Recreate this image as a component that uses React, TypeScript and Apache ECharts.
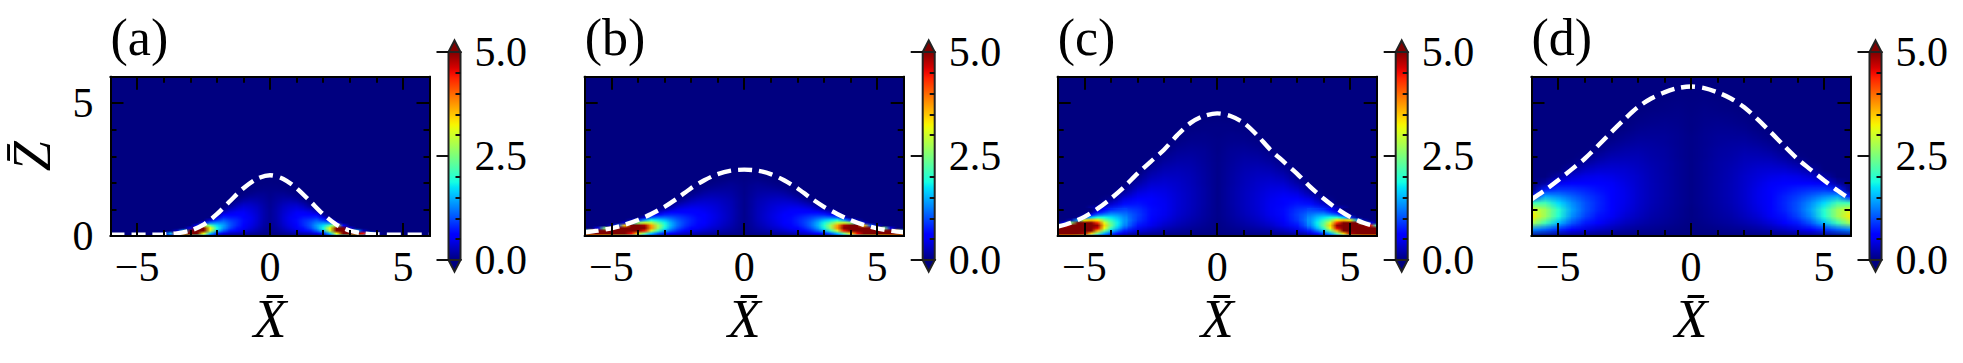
import React, { useEffect, useRef } from "react";
import * as echarts from "echarts";

const FONT = "Liberation Serif";
const panelLabels = ["(a)", "(b)", "(c)", "(d)"];
const plotLefts = [110.5, 584.7, 1057.7, 1531.5];
const xMajorTicks = [-5, 0, 5];
const xMinorTicks = [-4, -3, -2, -1, 1, 2, 3, 4];
const zMajorTicks = [0, 5];
const zMinorTicks = [1, 2, 3, 4];
const barLabels = [0, 2.5, 5];
const barMinorTicks = [0.5, 1, 1.5, 2, 3, 3.5, 4, 4.5];

// Surface height at x = 0, 0.5, 1 ... (mirrored for x < 0)
const curveXs = [0, 0.5, 1, 1.5, 2, 2.5, 3, 3.5, 4, 4.5, 5, 5.5, 6];
const curveA = [2.29, 2.15, 1.8, 1.32, 0.82, 0.43, 0.2, 0.1, 0.06, 0.05, 0.05, 0.05, 0.05];
const curveB = [2.5, 2.46, 2.33, 2.1, 1.8, 1.43, 1.1, 0.83, 0.6, 0.42, 0.29, 0.2, 0.14];
const curveC = [4.62, 4.52, 4.26, 3.8, 3.25, 2.8, 2.35, 1.85, 1.41, 1.03, 0.72, 0.5, 0.35];
const curveD = [5.63, 5.57, 5.41, 5.18, 4.85, 4.4, 3.91, 3.4, 2.91, 2.5, 2.1, 1.72, 1.38];

// Field values. Each inner list is one column, from z = 0 upward; absent cells are 0.
// Panel a: columns every 0.25 in x from 0, rows every 0.1 in z.
const fieldA = [
  [0,.03,.05,.07,.08,.09,.1,.1,.1,.1,.1,.09,.09,.08,.07,.06,.05,.04,.03,.02,.01,0],
  [0,.05,.1,.13,.16,.18,.19,.2,.2,.2,.19,.18,.16,.14,.12,.1,.08,.05,.03,.02,0],
  [0,.1,.2,.27,.32,.35,.37,.37,.36,.34,.32,.29,.25,.2,.16,.12,.08,.04,.02,0],
  [0,.15,.3,.4,.45,.48,.5,.5,.47,.44,.4,.35,.3,.23,.16,.1,.05,.02,0],
  [0,.2,.4,.52,.6,.65,.66,.63,.58,.52,.45,.38,.3,.2,.12,.06,.02,0],
  [0,.25,.55,.7,.8,.82,.8,.72,.62,.52,.4,.3,.2,.1,.04,0],
  [0,.3,.7,.95,1.02,1,.9,.75,.6,.45,.3,.15,.05,0],
  [0,.45,1.05,1.35,1.4,1.25,1.05,.8,.55,.3,.1,0],
  [0,.8,1.6,1.9,1.7,1.3,.85,.45,.1,0],
  [.4,1.6,3,3.2,2.3,1.2,.4,0],
  [1.5,3.2,5.5,5.5,3,.5,0],
  [2,5,6,5,.6,0],
  [2.5,6,6,.5,0],
  [3,6,1.5,0],
  [1.5,4.5,.3,0],
  [.5,1.5,0],
  [0,.3,0],
];
// Panel b: columns every 0.25 in x from 0, rows every 0.1 in z.
const fieldB = [
  [0,.02,.03,.04,.05,.05,.06,.06,.06,.06,.06,.06,.06,.06,.06,.06,.05,.05,.05,.04,.04,.03,.02,.02,.01,0],
  [0,.05,.08,.1,.12,.13,.14,.14,.15,.15,.15,.14,.14,.14,.13,.12,.11,.1,.09,.08,.06,.05,.03,.02,.01,0],
  [0,.07,.13,.17,.2,.22,.24,.25,.25,.25,.25,.24,.23,.22,.2,.18,.16,.14,.12,.1,.08,.05,.03,.01,0],
  [0,.09,.17,.23,.27,.3,.32,.33,.33,.32,.31,.3,.28,.26,.24,.21,.18,.15,.12,.09,.06,.03,.01,0],
  [0,.12,.22,.3,.35,.38,.4,.41,.41,.4,.38,.36,.34,.31,.27,.23,.19,.15,.11,.07,.04,.02,0],
  [0,.15,.27,.36,.42,.46,.48,.49,.48,.46,.44,.41,.37,.33,.29,.24,.19,.14,.09,.05,.02,0],
  [0,.18,.33,.44,.51,.55,.57,.57,.55,.52,.48,.44,.39,.34,.28,.22,.16,.11,.06,.03,0],
  [0,.22,.4,.52,.6,.65,.66,.65,.62,.57,.52,.46,.39,.32,.25,.18,.11,.06,.02,0],
  [0,.27,.48,.62,.72,.76,.77,.74,.68,.61,.53,.45,.36,.27,.19,.11,.05,.02,0],
  [0,.33,.6,.78,.88,.92,.9,.83,.73,.62,.51,.4,.29,.18,.09,.03,0],
  [0,.42,.78,1,1.12,1.13,1.05,.93,.78,.62,.47,.33,.2,.09,.02,0],
  [0,.55,1.05,1.35,1.48,1.45,1.28,1.05,.8,.55,.34,.17,.05,0],
  [0,.75,1.4,1.85,2,1.85,1.55,1.15,.78,.45,.2,.05,0],
  [0,1.1,2.05,2.7,2.75,2.35,1.75,1.15,.65,.3,.07,0],
  [.4,1.6,3,3.8,3.7,2.9,1.9,1.05,.45,.1,0],
  [1,2.4,4.4,5.5,4.8,3,1.4,.4,0],
  [1.5,3.4,6,7,5.5,2.6,.8,0],
  [2,4.5,7,7,5,1.5,.2,0],
  [2.5,5,7,7,3.5,.4,0],
  [2.8,5.5,7,6,1,0],
  [3,6,7,5,.3,0],
  [3.2,6.5,7,2.5,0],
  [3.5,6.5,6,.5,0],
  [3.5,6.5,3.5,0],
  [3.5,6.5,1.5,0],
];
// Panel c: columns every 0.5 in x from 0, rows every 0.2 in z.
const fieldC = [
  [0,.02,.03,.04,.05,.05,.05,.05,.05,.05,.05,.05,.05,.05,.05,.05,.04,.04,.04,.03,.03,.02,.01,0],
  [0,.05,.09,.12,.14,.15,.16,.16,.16,.16,.15,.15,.14,.13,.12,.11,.1,.08,.06,.05,.03,.02,0],
  [0,.08,.15,.2,.24,.26,.27,.27,.27,.26,.25,.24,.22,.2,.18,.15,.12,.09,.06,.04,.02,0],
  [0,.12,.22,.29,.34,.36,.37,.37,.36,.34,.32,.29,.26,.22,.18,.14,.1,.06,.03,0],
  [0,.17,.32,.42,.48,.5,.5,.48,.45,.41,.36,.31,.25,.19,.13,.08,.03,0],
  [0,.27,.48,.6,.65,.66,.63,.57,.5,.42,.34,.25,.17,.09,.03,0],
  [0,.42,.72,.88,.92,.85,.72,.58,.44,.3,.17,.07,0],
  [0,.75,1.25,1.35,1.2,.95,.68,.42,.2,.05,0],
  [.2,1.5,2.3,2.1,1.4,.8,.35,.08,0],
  [1,3.2,4.6,3.6,1.6,.4,0],
  [4,7,7,3.5,0],
  [5,7,7,1,0],
  [5,7,3.5,0],
];
// Panel c, finer reading of the hot corner: columns every 0.25 in x from 3.5, rows every 0.1 in z up to 1.
const fieldCHot = [
  [0,.4,.75,1.05,1.25,1.33,1.35,1.3,1.2,1.08,.95],
  [.1,.7,1.15,1.55,1.75,1.8,1.7,1.55,1.35,1.1,.9],
  [.2,1,1.6,2.1,2.4,2.3,2.05,1.75,1.4,1.1,.8],
  [.4,1.5,2.4,3.2,3.4,3.1,2.5,1.9,1.3,.85,.55],
  [.8,2.4,3.6,4.6,4.9,4.3,3.3,2,1.1,.6,.3],
  [1.5,3.5,5.5,7,7,5.5,3.5,1.6,.6,.1,0],
  [2.5,4.8,7,7,7,6.5,3.2,.9,.1,0,0],
  [3,5.5,7,7,7,5,1.5,.1,0,0,0],
  [3.5,6,7,7,6.5,2.5,.2,0,0,0,0],
  [3.5,6,7,7,4.5,.5,0,0,0,0,0],
  [3.5,6.5,7,5.5,2,0,0,0,0,0,0],
];
// Panel d: columns every 0.5 in x from 0, rows every 0.25 in z.
const fieldD = [
  [0,.01,.02,.03,.03,.04,.04,.04,.04,.04,.04,.04,.04,.04,.04,.04,.03,.03,.03,.02,.02,.01,.01,0],
  [0,.03,.06,.08,.09,.1,.1,.1,.1,.1,.1,.1,.09,.09,.08,.08,.07,.06,.05,.04,.03,.02,.01,0],
  [0,.05,.1,.13,.15,.16,.17,.17,.17,.17,.16,.16,.15,.14,.12,.11,.09,.07,.05,.03,.02,0],
  [0,.08,.14,.18,.21,.23,.24,.24,.24,.23,.22,.2,.18,.16,.14,.11,.09,.06,.04,.02,0],
  [0,.1,.2,.27,.31,.33,.34,.34,.33,.32,.29,.26,.23,.19,.15,.11,.07,.04,.02,0],
  [0,.15,.28,.37,.43,.46,.47,.46,.43,.39,.35,.29,.23,.18,.12,.07,.03,0],
  [0,.22,.4,.52,.6,.63,.62,.58,.52,.45,.37,.29,.21,.13,.07,.02,0],
  [0,.3,.55,.7,.78,.8,.77,.69,.59,.48,.36,.24,.13,.05,0],
  [0,.42,.75,.95,1.03,1.02,.92,.78,.62,.45,.29,.14,.03,0],
  [0,.6,1.05,1.32,1.42,1.32,1.1,.85,.6,.36,.15,.02,0],
  [0,.85,1.55,1.95,2,1.7,1.3,.88,.5,.16,0],
  [0,1.1,2.15,2.7,2.7,2.15,1.45,.75,.15,0],
  [0,1.3,2.8,3.3,3.1,2.1,.65],
];

const panels = [
  { curve: curveA, layers: [{ field: fieldA, x0: 0, dx: 0.25, dz: 0.1, mirror: true }] },
  { curve: curveB, layers: [{ field: fieldB, x0: 0, dx: 0.25, dz: 0.1, mirror: true }] },
  {
    curve: curveC,
    layers: [
      { field: fieldC, x0: 0, dx: 0.5, dz: 0.2, mirror: true },
      { field: fieldCHot, x0: 3.5, dx: 0.25, dz: 0.1, mirror: false },
      { field: [...fieldCHot].reverse(), x0: -6, dx: 0.25, dz: 0.1, mirror: false },
    ],
  },
  { curve: curveD, layers: [{ field: fieldD, x0: 0, dx: 0.5, dz: 0.25, mirror: true }] },
];

const VMAX = 5;
const XMAX = 6;
const ZMAX = 6;

function piece(knots: number[][], t: number) {
  for (let i = 1; i < knots.length; i++) {
    if (t <= knots[i][0]) {
      const [a, va] = knots[i - 1];
      const [b, vb] = knots[i];
      return va + ((vb - va) * (t - a)) / (b - a);
    }
  }
  return knots[knots.length - 1][1];
}
const jetR = [[0, 0], [0.35, 0], [0.66, 1], [0.89, 1], [1, 0.5]];
const jetG = [[0, 0], [0.125, 0], [0.375, 1], [0.64, 1], [0.91, 0], [1, 0]];
const jetB = [[0, 0.5], [0.11, 1], [0.34, 1], [0.65, 0], [1, 0]];
function jet(v: number): number[] {
  const t = Math.max(0, Math.min(1, v / VMAX));
  return [piece(jetR, t), piece(jetG, t), piece(jetB, t)].map((c) => Math.round(c * 255));
}

// One pixel per estimated value; the browser smooths the picture when it is scaled up to the axes.
function fieldImage(layer: any) {
  const { field, x0, dx, dz, mirror } = layer;
  const half = Math.round(XMAX / dx);
  const w = mirror ? 2 * half + 1 : field.length;
  const h = mirror ? Math.round(ZMAX / dz) + 1 : field[0].length;
  const canvas = document.createElement("canvas");
  canvas.width = w;
  canvas.height = h;
  const ctx = canvas.getContext("2d")!;
  const img = ctx.createImageData(w, h);
  for (let c = 0; c < w; c++) {
    const col = (mirror ? field[Math.abs(c - half)] : field[c]) || [];
    for (let r = 0; r < h; r++) {
      const [R, G, B] = jet(col[h - 1 - r] || 0);
      const o = (r * w + c) * 4;
      img.data[o] = R;
      img.data[o + 1] = G;
      img.data[o + 2] = B;
      img.data[o + 3] = 255;
    }
  }
  ctx.putImageData(img, 0, 0);
  const xLow = mirror ? -XMAX : x0;
  return {
    url: canvas.toDataURL("image/png"),
    w,
    h,
    box: [xLow - dx / 2, (h - 0.5) * dz, xLow + (w - 0.5) * dx, -dz / 2],
  };
}

function buildOption() {
  const grids: any[] = [];
  const xAxes: any[] = [];
  const yAxes: any[] = [];
  const series: any[] = [];
  const titles: any[] = [];
  const textStyle = { fontFamily: FONT, fontSize: 42, color: "#000" };
  const nameStyle = { fontFamily: FONT, fontSize: 54, fontStyle: "italic", color: "#000" };
  const line = { show: true, onZero: false, lineStyle: { color: "#000", width: 2 } };
  const tick = (customValues: number[], length: number, color = "#000") => ({
    show: true, inside: true, length, customValues, lineStyle: { color, width: 2 },
  });

  panels.forEach((p, i) => {
    const left = plotLefts[i];
    const g = grids.length;
    grids.push({ left, top: 76.7, width: 319, height: 159.3, outerBoundsMode: "none" });
    titles.push({
      text: panelLabels[i],
      left: left - 5,
      top: 6,
      textStyle: { fontFamily: FONT, fontSize: 52, fontWeight: "normal", color: "#000" },
    });

    const xBase = { type: "value", gridIndex: g, min: -XMAX, max: XMAX, z: 5, splitLine: { show: false }, axisLine: line };
    const zBase = { type: "value", gridIndex: g, min: 0, max: ZMAX, z: 5, splitLine: { show: false }, axisLine: line };

    const xMain = xAxes.length;
    xAxes.push({
      ...xBase,
      position: "bottom",
      axisTick: tick(xMajorTicks, 13),
      axisLabel: {
        ...textStyle,
        show: true,
        margin: 10,
        customValues: xMajorTicks,
        formatter: (v: number) => (v < 0 ? "\u2212" + Math.abs(v) : String(v)),
      },
      name: "X\u0304",
      nameLocation: "middle",
      nameGap: 56,
      nameTextStyle: nameStyle,
    });
    xAxes.push({ ...xBase, position: "bottom", axisTick: tick(xMinorTicks, 6), axisLabel: { show: false } });
    xAxes.push({ ...xBase, position: "top", axisTick: tick(xMajorTicks, 13), axisLabel: { show: false } });
    xAxes.push({ ...xBase, position: "top", axisTick: tick(xMinorTicks, 6), axisLabel: { show: false } });

    const zMain = yAxes.length;
    yAxes.push({
      ...zBase,
      position: "left",
      axisTick: tick(zMajorTicks, 13),
      axisLabel:
        i === 0
          ? { ...textStyle, show: true, margin: 17, customValues: zMajorTicks, formatter: (v: number) => String(v) }
          : { show: false },
      ...(i === 0
        ? { name: "Z\u0304", nameLocation: "middle", nameGap: 52, nameRotate: 90, nameTextStyle: nameStyle }
        : {}),
    });
    yAxes.push({ ...zBase, position: "left", axisTick: tick(zMinorTicks, 6), axisLabel: { show: false } });
    yAxes.push({ ...zBase, position: "right", axisTick: tick(zMajorTicks, 13), axisLabel: { show: false } });
    yAxes.push({ ...zBase, position: "right", axisTick: tick(zMinorTicks, 6), axisLabel: { show: false } });

    p.layers.forEach((layer, li) => {
      const image = fieldImage(layer);
      series.push({
        type: "custom",
        coordinateSystem: "cartesian2d",
        xAxisIndex: xMain,
        yAxisIndex: zMain,
        clip: true,
        silent: true,
        z: 2 + li * 0.01,
        data: [image.box],
        renderItem: (_: any, api: any) => {
          const a = api.coord([api.value(0), api.value(1)]);
          const b = api.coord([api.value(2), api.value(3)]);
          return {
            type: "image",
            x: a[0],
            y: a[1],
            scaleX: (b[0] - a[0]) / image.w,
            scaleY: (b[1] - a[1]) / image.h,
            style: { image: image.url, x: 0, y: 0, width: image.w, height: image.h },
          };
        },
      });
    });

    const curveData: number[][] = [];
    for (let k = curveXs.length - 1; k > 0; k--) curveData.push([-curveXs[k], p.curve[k]]);
    curveXs.forEach((x, k) => curveData.push([x, p.curve[k]]));
    series.push({
      type: "line",
      xAxisIndex: xMain,
      yAxisIndex: zMain,
      data: curveData,
      smooth: 0.3,
      symbol: "none",
      z: 3,
      lineStyle: { color: "#fff", width: 4.4, type: [14, 7] },
    });

    // Colour bar
    const gb = grids.length;
    grids.push({ left: left + 338, top: 52, width: 12, height: 208, outerBoundsMode: "none" });
    const barX = xAxes.length;
    xAxes.push({ type: "value", gridIndex: gb, min: 0, max: 1, show: false });
    const barY = yAxes.length;
    const barBase = {
      type: "value", gridIndex: gb, min: 0, max: VMAX, position: "right", z: 5,
      splitLine: { show: false }, axisLine: { show: false },
    };
    yAxes.push({
      ...barBase,
      axisTick: tick(barLabels, 12, "#111"),
      axisLabel: {
        ...textStyle,
        show: true,
        margin: 14,
        customValues: barLabels,
        formatter: (v: number) => v.toFixed(1),
      },
    });
    yAxes.push({ ...barBase, axisTick: tick(barMinorTicks, 5, "#111"), axisLabel: { show: false } });
    const stops: any[] = [];
    for (let s = 0; s <= 40; s++) {
      const c = jet((s / 40) * VMAX);
      stops.push({ offset: s / 40, color: `rgb(${c[0]},${c[1]},${c[2]})` });
    }
    series.push({
      type: "custom",
      coordinateSystem: "cartesian2d",
      xAxisIndex: barX,
      yAxisIndex: barY,
      silent: true,
      z: 2,
      data: [[0, 0, 1, VMAX]],
      renderItem: (_: any, api: any) => {
        const a = api.coord([api.value(0), api.value(1)]);
        const b = api.coord([api.value(2), api.value(3)]);
        const [x0, y0] = a;
        const [x1, y1] = b;
        const mid = (x0 + x1) / 2;
        const edge = { stroke: "#222", lineWidth: 2 };
        const low = jet(0);
        const high = jet(VMAX);
        return {
          type: "group",
          children: [
            {
              type: "rect",
              shape: { x: x0, y: y1, width: x1 - x0, height: y0 - y1 },
              style: {
                fill: new echarts.graphic.LinearGradient(0, 1, 0, 0, stops),
                ...edge,
              },
            },
            {
              type: "polygon",
              shape: { points: [[x0, y1], [mid, y1 - 11.5], [x1, y1]] },
              style: { fill: `rgb(${high.join(",")})`, ...edge },
            },
            {
              type: "polygon",
              shape: { points: [[x0, y0], [mid, y0 + 11.5], [x1, y0]] },
              style: { fill: `rgb(${low.join(",")})`, ...edge },
            },
          ],
        };
      },
    });
  });

  return { animation: false, backgroundColor: "#fff", title: titles, grid: grids, xAxis: xAxes, yAxis: yAxes, series };
}

export default function App() {
  const ref = useRef<HTMLDivElement>(null);
  useEffect(() => {
    const chart = echarts.init(ref.current!, undefined, { renderer: "svg" });
    chart.setOption(buildOption() as any);
    return () => chart.dispose();
  }, []);
  return <div ref={ref} style={{ position: "fixed", left: 0, top: 0, width: 1963, height: 363 }} />;
}
